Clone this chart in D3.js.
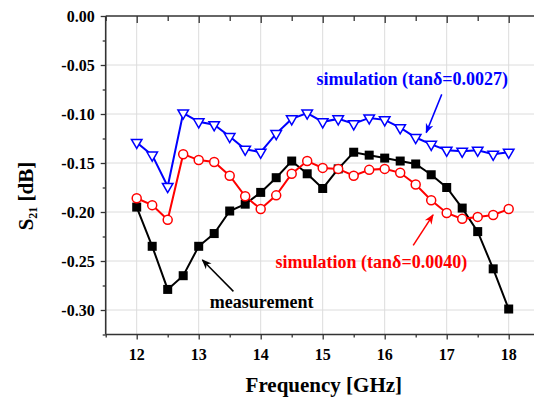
<!DOCTYPE html>
<html>
<head>
<meta charset="utf-8">
<script src="https://cdn.jsdelivr.net/npm/d3@7"></script>
<style>
  body { margin: 0; background: #fff; }
  svg text { font-family: "Liberation Serif", "Times New Roman", serif; font-weight: bold; }
</style>
</head>
<body>
<svg id="chart" width="534" height="400"></svg>
<script>
// Frequency points (GHz)
var freq = [12, 12.25, 12.5, 12.75, 13, 13.25, 13.5, 13.75, 14, 14.25, 14.5, 14.75, 15,
            15.25, 15.5, 15.75, 16, 16.25, 16.5, 16.75, 17, 17.25, 17.5, 17.75, 18]

// S21 values [dB]
var simBlue = [-0.129, -0.142, -0.174, -0.099, -0.108, -0.111, -0.123, -0.136, -0.139, -0.120,
               -0.105, -0.099, -0.108, -0.105, -0.110, -0.104, -0.106, -0.114, -0.124, -0.131,
               -0.137, -0.138, -0.137, -0.141, -0.139]
var simRed = [-0.186, -0.193, -0.208, -0.141, -0.147, -0.149, -0.163, -0.184, -0.197, -0.183,
              -0.161, -0.148, -0.155, -0.156, -0.163, -0.157, -0.156, -0.160, -0.172, -0.188,
              -0.201, -0.207, -0.205, -0.203, -0.197]
var measured = [-0.195, -0.235, -0.279, -0.265, -0.235, -0.222, -0.199, -0.192, -0.180, -0.165,
                -0.148, -0.161, -0.176, -0.156, -0.139, -0.142, -0.145, -0.148, -0.151, -0.162,
                -0.175, -0.196, -0.220, -0.258, -0.299]

// Tick labels
var xTicks = [12, 13, 14, 15, 16, 17, 18]
var yTicks = [0, -0.05, -0.10, -0.15, -0.20, -0.25, -0.30]

// Annotations in data units: text start, arrow tail and head
var notes = [
    { text: "simulation (tanδ=0.0027)", color: "#0000ff", x: 14.90, y: -0.0705,
      from: [16.92, -0.080], to: [16.67, -0.119] },
    { text: "simulation (tanδ=0.0040)", color: "#ff0000", x: 14.24, y: -0.257,
      from: [16.46, -0.234], to: [16.78, -0.203] },
    { text: "measurement", color: "#000000", x: 13.18, y: -0.298,
      from: [13.56, -0.281], to: [13.06, -0.249] }
]

const svg = d3.select("#chart")
const plotLeft = 105.7, plotTop = 16, plotBottom = 334.5

const xScale = d3.scaleLinear().domain([11.5, 18.5]).range([plotLeft, plotLeft + 7 * 62])
const yScale = d3.scaleLinear().domain([-0.325, 0]).range([plotBottom, plotTop])
const xEnd = 534

// Grid lines
svg.append("g").selectAll("line")
    .data(xTicks).enter().append("line")
    .attr("x1", d => xScale(d)).attr("x2", d => xScale(d))
    .attr("y1", plotTop).attr("y2", plotBottom)
    .attr("stroke", "#dcdcdc").attr("stroke-width", 1)
svg.append("g").selectAll("line")
    .data(yTicks.slice(1)).enter().append("line")
    .attr("x1", plotLeft).attr("x2", xEnd)
    .attr("y1", d => yScale(d)).attr("y2", d => yScale(d))
    .attr("stroke", "#dcdcdc").attr("stroke-width", 1)

// Bottom axis
const xAxis = svg.append("g")
    .attr("transform", `translate(0,${plotBottom})`)
    .call(d3.axisBottom(xScale).tickValues(d3.range(11.5, 18.51, 0.5)).tickSize(4).tickFormat(""))
xAxis.select(".domain").remove()
xAxis.selectAll("line").attr("stroke", "#333").attr("stroke-width", 1.3)
    .attr("y2", d => Number.isInteger(d) ? 5 : 3)
svg.append("line")
    .attr("x1", plotLeft).attr("x2", xEnd).attr("y1", plotBottom).attr("y2", plotBottom)
    .attr("stroke", "#333").attr("stroke-width", 1.6)
svg.append("g").selectAll("text")
    .data(xTicks).enter().append("text")
    .attr("x", d => xScale(d)).attr("y", plotBottom + 25)
    .attr("text-anchor", "middle").attr("font-size", 16)
    .text(d => d)

// Top axis (inward ticks)
const topAxis = svg.append("g")
    .attr("transform", `translate(0,${plotTop})`)
    .call(d3.axisBottom(xScale).tickValues(d3.range(11.5, 18.51, 0.5)).tickSize(6).tickFormat(""))
topAxis.select(".domain").remove()
topAxis.selectAll("line").attr("stroke", "#333").attr("stroke-width", 1.3)
    .attr("y2", d => Number.isInteger(d) ? 7 : 5)
svg.append("line")
    .attr("x1", plotLeft).attr("x2", xEnd).attr("y1", plotTop).attr("y2", plotTop)
    .attr("stroke", "#333").attr("stroke-width", 1.6)

// Left axis
const yAxis = svg.append("g")
    .attr("transform", `translate(${plotLeft},0)`)
    .call(d3.axisLeft(yScale).tickValues(d3.range(0, -0.3251, -0.025)).tickSize(4).tickFormat(""))
yAxis.select(".domain").remove()
yAxis.selectAll("line").attr("stroke", "#333").attr("stroke-width", 1.3)
    .attr("x2", (d, i) => i % 2 == 0 ? -5 : -3)
svg.append("line")
    .attr("x1", plotLeft).attr("x2", plotLeft).attr("y1", plotTop).attr("y2", plotBottom)
    .attr("stroke", "#333").attr("stroke-width", 1.6)
svg.append("g").selectAll("text")
    .data(yTicks).enter().append("text")
    .attr("x", plotLeft - 11).attr("y", d => yScale(d) + 5.5)
    .attr("text-anchor", "end").attr("font-size", 16)
    .text(d => d3.format(".2f")(d).replace("−", "-"))

// Axis titles
svg.append("text")
    .attr("x", (plotLeft + xEnd) / 2 + 4).attr("y", 392)
    .attr("text-anchor", "middle").attr("font-size", 21)
    .text("Frequency [GHz]")
const yTitle = svg.append("text")
    .attr("transform", "translate(33,196) rotate(-90)")
    .attr("text-anchor", "middle").attr("font-size", 21)
yTitle.append("tspan").text("S")
yTitle.append("tspan").attr("font-size", 12).attr("dy", 4).text("21")
yTitle.append("tspan").attr("dy", -4).text(" [dB]")

// Series lines
const line = d3.line().x((d, i) => xScale(freq[i])).y(d => yScale(d))
const series = [
    { values: measured, color: "#000000" },
    { values: simRed, color: "#ff0000" },
    { values: simBlue, color: "#0000ff" }
]
series.forEach(s => {
    svg.append("path").datum(s.values)
        .attr("d", line).attr("fill", "none")
        .attr("stroke", s.color).attr("stroke-width", 2)
})

// Markers: squares for measurement
svg.append("g").selectAll("rect")
    .data(measured).enter().append("rect")
    .attr("x", (d, i) => xScale(freq[i]) - 4.5).attr("y", d => yScale(d) - 4.5)
    .attr("width", 9).attr("height", 9).attr("fill", "#000")

// circles for tanδ=0.0040
svg.append("g").selectAll("circle")
    .data(simRed).enter().append("circle")
    .attr("cx", (d, i) => xScale(freq[i])).attr("cy", d => yScale(d))
    .attr("r", 4.5).attr("fill", "#fff").attr("stroke", "#ff0000").attr("stroke-width", 1.5)

// down triangles for tanδ=0.0027
const tri = d3.symbol().type(d3.symbolTriangle).size(48)
svg.append("g").selectAll("path")
    .data(simBlue).enter().append("path")
    .attr("d", tri)
    .attr("transform", (d, i) => `translate(${xScale(freq[i])},${yScale(d)}) rotate(180)`)
    .attr("fill", "#fff").attr("stroke", "#0000ff").attr("stroke-width", 1.5)

// Arrow heads
const defs = svg.append("defs")
notes.forEach((n, i) => {
    defs.append("marker")
        .attr("id", "arrow" + i)
        .attr("viewBox", "0 0 10 10").attr("refX", 9).attr("refY", 5)
        .attr("markerWidth", 10).attr("markerHeight", 10)
        .attr("markerUnits", "userSpaceOnUse")
        .attr("orient", "auto")
        .append("path").attr("d", "M0,1 L10,5 L0,9 L3,5 Z").attr("fill", n.color)
})

// Annotations
notes.forEach((n, i) => {
    svg.append("line")
        .attr("x1", xScale(n.from[0])).attr("y1", yScale(n.from[1]))
        .attr("x2", xScale(n.to[0])).attr("y2", yScale(n.to[1]))
        .attr("stroke", n.color).attr("stroke-width", 1.5)
        .attr("marker-end", `url(#arrow${i})`)
    svg.append("text")
        .attr("x", xScale(n.x)).attr("y", yScale(n.y))
        .attr("font-size", 18).attr("fill", n.color)
        .text(n.text)
})
</script>
</body>
</html>
